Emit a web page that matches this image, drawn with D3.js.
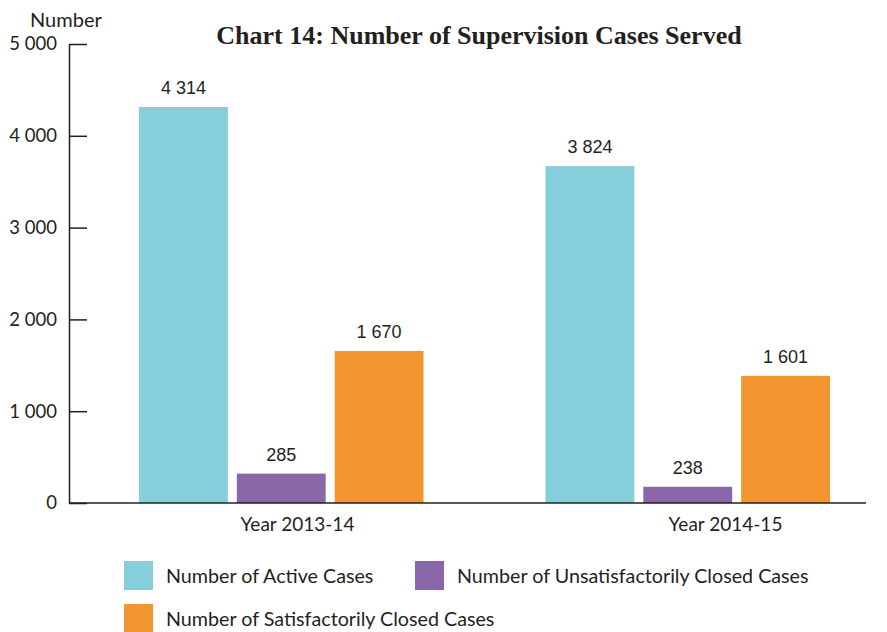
<!DOCTYPE html>
<html lang="en">
<head>
    <meta charset="UTF-8">
    <title>Chart 14</title>
    <script src="https://d3js.org/d3.v7.min.js"></script>
    <style>
        body { margin: 0; background: #fff; }
        text { fill: #231f20; }
    </style>
</head>
<body>
    <div id="chart"></div>
    <script>
        // ---------------- data ----------------
        var groups = ["Year 2013-14", "Year 2014-15"];
        var series = ["Number of Active Cases", "Number of Unsatisfactorily Closed Cases", "Number of Satisfactorily Closed Cases"];
        // bar heights as drawn in the picture
        var activeCases = [4314, 3670];
        var unsatClosed = [320, 177];
        var satClosed = [1657, 1385];
        // printed value labels
        var activeLabels = ["4 314", "3 824"];
        var unsatLabels = ["285", "238"];
        var satLabels = ["1 670", "1 601"];
        var yTicks = [0, 1000, 2000, 3000, 4000, 5000];
        var colors = ["#86ced9", "#8a67a9", "#f39530"];

        var values = [activeCases, unsatClosed, satClosed];
        var labels = [activeLabels, unsatLabels, satLabels];

        // ---------------- svg ----------------
        var svg = d3.select("#chart").append("svg").attr("width", 887).attr("height", 632);

        var y = d3.scaleLinear().domain([0, 5000]).range([503, 44]);
        var x0 = d3.scaleBand().domain(groups).range([78, 891]).paddingInner(0.3).paddingOuter(0.15);
        var x1 = d3.scaleBand().domain(series).range([0, x0.bandwidth()]).paddingInner(0.092);
        var color = d3.scaleOrdinal().domain(series).range(colors);
        // the category labels sit a bit right of the bar groups in the original
        var xLab = d3.scalePoint().domain(groups).range([297, 725]);

        // title
        svg.append("text").attr("x", 479).attr("y", 44).attr("text-anchor", "middle")
            .style("font-family", "Liberation Serif").style("font-weight", "bold").style("font-size", "26px")
            .text("Chart 14: Number of Supervision Cases Served");

        svg.append("text").attr("x", 30).attr("y", 27)
            .style("font-family", "Lato").style("font-size", "20px")
            .text("Number");

        // y axis
        var yAxis = d3.axisLeft(y).tickValues(yTicks).tickSize(0).tickPadding(12)
            .tickFormat(function(d) { return d3.format(",")(d).replace(",", " "); });
        var gy = svg.append("g").attr("transform", "translate(69,0)").call(yAxis);
        gy.select(".domain").attr("stroke", "#231f20").attr("stroke-width", 1.5);
        gy.selectAll(".tick text").style("font-family", "Lato").style("font-size", "18.5px").attr("fill", "#231f20");
        gy.selectAll(".tick").append("line").attr("x1", 0).attr("x2", 18)
            .attr("stroke", "#231f20").attr("stroke-width", 1.5);

        // bars
        var g = svg.append("g");
        series.forEach(function(s, i) {
            groups.forEach(function(grp, j) {
                var bx = x0(grp) + x1(s);
                g.append("rect")
                    .attr("x", bx).attr("y", y(values[i][j]))
                    .attr("width", x1.bandwidth()).attr("height", y(0) - y(values[i][j]))
                    .attr("fill", color(s));
                g.append("text")
                    .attr("x", bx + x1.bandwidth() / 2).attr("y", y(values[i][j]) - 13)
                    .attr("text-anchor", "middle")
                    .style("font-family", "Liberation Sans").style("font-size", "18px")
                    .text(labels[i][j]);
            });
        });

        // baseline
        svg.append("line").attr("x1", 69).attr("x2", 866).attr("y1", y(0)).attr("y2", y(0))
            .attr("stroke", "#231f20").attr("stroke-width", 1.5);

        // x labels
        var xAxis = d3.axisBottom(xLab).tickSize(0).tickPadding(15);
        var gx = svg.append("g").attr("transform", "translate(0," + y(0) + ")").call(xAxis);
        gx.select(".domain").remove();
        gx.selectAll(".tick text").style("font-family", "Lato").style("font-size", "19px").attr("fill", "#231f20");

        // legend
        var legendPos = [[124, 561], [415, 561], [124, 604]];
        series.forEach(function(s, i) {
            var lg = svg.append("g").attr("transform", "translate(" + legendPos[i][0] + "," + legendPos[i][1] + ")");
            lg.append("rect").attr("width", 29).attr("height", 29).attr("fill", color(s));
            lg.append("text").attr("x", 42).attr("y", 15).attr("dy", "0.35em")
                .style("font-family", "Lato").style("font-size", "19.7px")
                .text(s);
        });
    </script>
</body>
</html>
